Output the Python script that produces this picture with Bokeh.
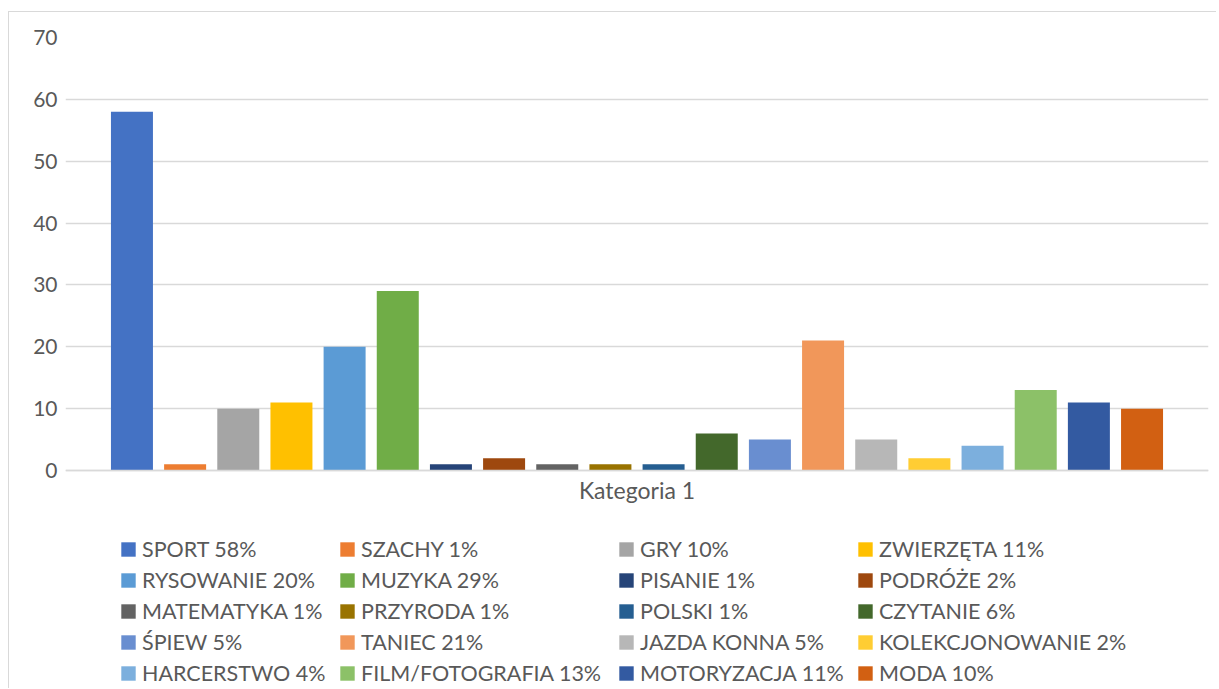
from bokeh.plotting import figure
from bokeh.models import ColumnDataSource, Range1d, Legend, LegendItem, FixedTicker
from bokeh.embed import file_html
from bokeh.resources import INLINE

names = ["SPORT 58%", "SZACHY 1%", "GRY 10%", "ZWIERZĘTA 11%", "RYSOWANIE 20%",
         "MUZYKA 29%", "PISANIE 1%", "PODRÓŻE 2%", "MATEMATYKA 1%", "PRZYRODA 1%",
         "POLSKI 1%", "CZYTANIE 6%", "ŚPIEW 5%", "TANIEC 21%", "JAZDA KONNA 5%",
         "KOLEKCJONOWANIE 2%", "HARCERSTWO 4%", "FILM/FOTOGRAFIA 13%", "MOTORYZACJA 11%", "MODA 10%"]
values = [58, 1, 10, 11, 20, 29, 1, 2, 1, 1, 1, 6, 5, 21, 5, 2, 4, 13, 11, 10]
colors = ["#4472C4", "#ED7D31", "#A5A5A5", "#FFC000", "#5B9BD5", "#70AD47", "#264478",
          "#9E480E", "#636363", "#997300", "#255E91", "#43682B", "#698ED0", "#F1975A",
          "#B7B7B7", "#FFCD33", "#7CAFDD", "#8CC168", "#335AA1", "#D26012"]
category = "Kategoria 1"
y_ticks = [0, 10, 20, 30, 40, 50, 60, 70]

FONT = "Lato"
TXT = "#595959"
GRID = "#d9d9d9"

n = len(names)
xs = list(range(n))
cat_center = (n - 1) / 2

source = ColumnDataSource(dict(x=xs, name=names, value=values, color=colors))

# plot area: y 0..70 occupies the upper part; the lower part of the frame holds the legend
ymax = 70
y_start = -ymax * (689 - 470) / (470 - 37)

p = figure(width=1208, height=677, output_backend="svg", toolbar_location=None,
           x_range=Range1d(-1.25, n - 1 + 1.25),
           y_range=Range1d(y_start, ymax),
           min_border_left=56, min_border_right=9, min_border_top=25, min_border_bottom=0)
p.margin = (12, 0, 0, 9)
p.styles = {"box-shadow": "-1px -1px 0 0 #d9d9d9"}
p.outline_line_color = None
p.background_fill_color = "white"
p.border_fill_color = "white"

r = p.vbar(x="x", top="value", width=0.79, source=source,
           fill_color="color", line_color=None)

p.xgrid.grid_line_color = None
p.ygrid.grid_line_color = GRID
p.ygrid.grid_line_width = 1.5
p.yaxis.ticker = FixedTicker(ticks=y_ticks)
p.yaxis.axis_line_color = None
p.yaxis.major_tick_line_color = None
p.yaxis.major_tick_out = 0
p.yaxis.minor_tick_line_color = None
p.yaxis.major_label_standoff = 8
p.yaxis.major_label_text_font = FONT
p.yaxis.major_label_text_font_size = "21px"
p.yaxis.major_label_text_color = TXT

p.xaxis.fixed_location = 0
p.xaxis.ticker = FixedTicker(ticks=[cat_center])
p.xaxis.major_label_overrides = {cat_center: category}
p.xaxis.axis_line_color = GRID
p.xaxis.axis_line_width = 1.5
p.xaxis.major_tick_line_color = None
p.xaxis.major_tick_out = 0
p.xaxis.minor_tick_line_color = None
p.xaxis.major_label_standoff = 5
p.xaxis.major_label_text_font = FONT
p.xaxis.major_label_text_font_size = "23px"
p.xaxis.major_label_text_color = TXT

col_x = [54, 273, 552, 791]
for c in range(4):
    items = [LegendItem(label=names[i], renderers=[r], index=i) for i in range(c, n, 4)]
    leg = Legend(items=items, location=(col_x[c], 3), orientation="vertical",
                 padding=0, margin=0, spacing=5, glyph_width=18, glyph_height=18,
                 label_height=26, label_standoff=5,
                 label_text_font=FONT, label_text_font_size="21.5px", label_text_color=TXT,
                 border_line_color=None, background_fill_alpha=0)
    p.add_layout(leg, "center")

open("out.html", "w").write(file_html(p, INLINE))
